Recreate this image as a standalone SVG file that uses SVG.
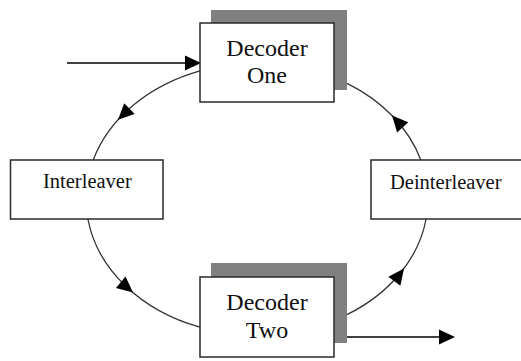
<svg xmlns="http://www.w3.org/2000/svg" width="521" height="361" viewBox="0 0 521 361">
  <style>
    .box { fill: #ffffff; stroke: #2a2a2a; stroke-width: 1.5; }
    .shadow { fill: #808080; }
    .loop { fill: none; stroke: #333333; stroke-width: 1.3; }
    .io { fill: none; stroke: #000000; stroke-width: 1.6; }
    .tip { fill: #000000; }
  </style>
  <defs>
    <!-- arrowhead pointing along +x with its tip at the origin -->
    <path id="tri" d="M0,0 L-16,-7.5 L-16,7.5 z"/>
  </defs>

  <!-- feedback loop: elliptical arcs, centre (257,199), radii 171 x 136 -->
  <g id="connectors">
    <!-- Decoder One to Interleaver -->
    <path class="loop" d="M200,70.8 A171,136 0 0 0 93.2,160"/>
    <use href="#tri" class="tip" transform="translate(118,119.8) rotate(135.8)"/>
    <!-- Interleaver to Decoder Two -->
    <path class="loop" d="M87.9,219 A171,136 0 0 0 200,327.2"/>
    <use href="#tri" class="tip" transform="translate(133,292.6) rotate(40)"/>
    <!-- Decoder Two to Deinterleaver -->
    <path class="loop" d="M347,314.6 A171,136 0 0 0 426.1,219"/>
    <use href="#tri" class="tip" transform="translate(404,268.5) rotate(-53)"/>
    <!-- Deinterleaver to Decoder One -->
    <path class="loop" d="M420.8,160 A171,136 0 0 0 347,83.4"/>
    <use href="#tri" class="tip" transform="translate(392,115.5) rotate(-132)"/>
    <!-- input and output -->
    <path class="io" d="M67,63 L186,63"/>
    <use href="#tri" class="tip" transform="translate(201,63)"/>
    <path class="io" d="M334,337 L440,337"/>
    <use href="#tri" class="tip" transform="translate(455,337)"/>
  </g>

  <g id="decoder-one">
    <rect class="shadow" x="211" y="10" width="136" height="80"/>
    <rect class="box" x="200" y="23" width="134" height="79"/>
    <text x="267" y="56" font-family="Liberation Serif, Times New Roman, serif" font-size="24" text-anchor="middle" fill="#111">Decoder</text>
    <text x="267" y="83" font-family="Liberation Serif, Times New Roman, serif" font-size="24" text-anchor="middle" fill="#111">One</text>
  </g>

  <g id="interleaver">
    <rect class="box" x="10.5" y="160" width="152.5" height="59"/>
    <text x="43" y="188" font-family="Liberation Serif, Times New Roman, serif" font-size="20.5" fill="#111">Interleaver</text>
  </g>

  <g id="deinterleaver">
    <rect class="box" x="371" y="160" width="160" height="59"/>
    <text x="390" y="189" font-family="Liberation Serif, Times New Roman, serif" font-size="20.5" fill="#111">Deinterleaver</text>
  </g>

  <g id="decoder-two">
    <rect class="shadow" x="211" y="263" width="136" height="80"/>
    <rect class="box" x="200" y="277" width="134" height="80"/>
    <text x="267" y="310" font-family="Liberation Serif, Times New Roman, serif" font-size="24" text-anchor="middle" fill="#111">Decoder</text>
    <text x="267" y="338" font-family="Liberation Serif, Times New Roman, serif" font-size="24" text-anchor="middle" fill="#111">Two</text>
  </g>
</svg>
